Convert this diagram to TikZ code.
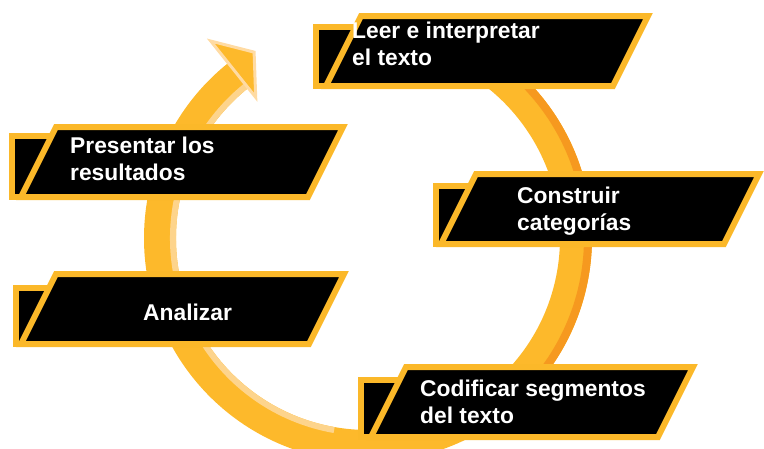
\documentclass[tikz,border=0pt]{standalone}
\usepackage{fontspec}
\setmainfont{Liberation Sans}
\definecolor{ringorange}{HTML}{FDB92B}
\definecolor{ringdark}{HTML}{F6991F}
\definecolor{ringlight}{HTML}{FDD48C}
\definecolor{headlight}{HTML}{FFDBA3}
\definecolor{boxborder}{HTML}{FBB829}

\tikzstyle{steptab} = [fill=black, draw=boxborder, line width=6pt, line join=miter]
\tikzstyle{stepplate} = [fill=black, draw=boxborder, line width=6pt, line join=miter]
\tikzstyle{steptext} = [text=white, font=\bfseries\fontsize{22.8}{27}\selectfont, align=left, inner sep=0pt, anchor=base west]
\tikzstyle{cyclering} = [draw=ringorange, line width=32pt]

\begin{document}
\begin{tikzpicture}[x=1pt, y=-1pt]
\useasboundingbox (0,0) rectangle (764,448);
\clip (0,0) rectangle (764,448);
\coordinate (C) at (368,238);

%Ring
\draw [cyclering] ([shift={(-85:208)}]C) arc [start angle=-85, end angle=231.4, radius=208];
\draw [ringdark, line width=8pt] ([shift={(-85:220)}]C) arc [start angle=-85, end angle=50, radius=220];
\draw [ringlight, line width=6pt] ([shift={(100:195)}]C) arc [start angle=100, end angle=231.4, radius=195];
\filldraw [fill=ringorange, draw=headlight, line width=3pt, line join=miter] ([shift={(231.4:180)}]C) -- ([shift={(238.5:218)}]C) -- ([shift={(231.4:252)}]C) -- cycle;

%Boxes
\draw [steptab] (316,27) rectangle (362,86);
\draw [stepplate] (326,86) -- ++(35,-70) -- ++(287,0) -- ++(-35,70) -- cycle;
\draw [steptab] (12,136) rectangle (58,197);
\draw [stepplate] (21,197) -- ++(35,-70) -- ++(287,0) -- ++(-35,70) -- cycle;
\draw [steptab] (436,186) rectangle (480,244);
\draw [stepplate] (441,244) -- ++(35,-70) -- ++(283,0) -- ++(-35,70) -- cycle;
\draw [steptab] (16,288) rectangle (60,344);
\draw [stepplate] (21,344) -- ++(35,-70) -- ++(288,0) -- ++(-35,70) -- cycle;
\draw [steptab] (361,380) rectangle (405,437);
\draw [stepplate] (371,437) -- ++(35,-70) -- ++(287,0) -- ++(-35,70) -- cycle;

%Labels (anchored at the baseline of the last line)
\node (leer) [steptext] at (352,65) {Leer e interpretar\\el texto};
\node (presentar) [steptext] at (70,180) {Presentar los\\resultados};
\node (construir) [steptext] at (517,230) {Construir\\categorías};
\node (analizar) [steptext] at (143,320) {Analizar};
\node (codificar) [steptext] at (420,423) {Codificar segmentos\\del texto};

\end{tikzpicture}
\end{document}
